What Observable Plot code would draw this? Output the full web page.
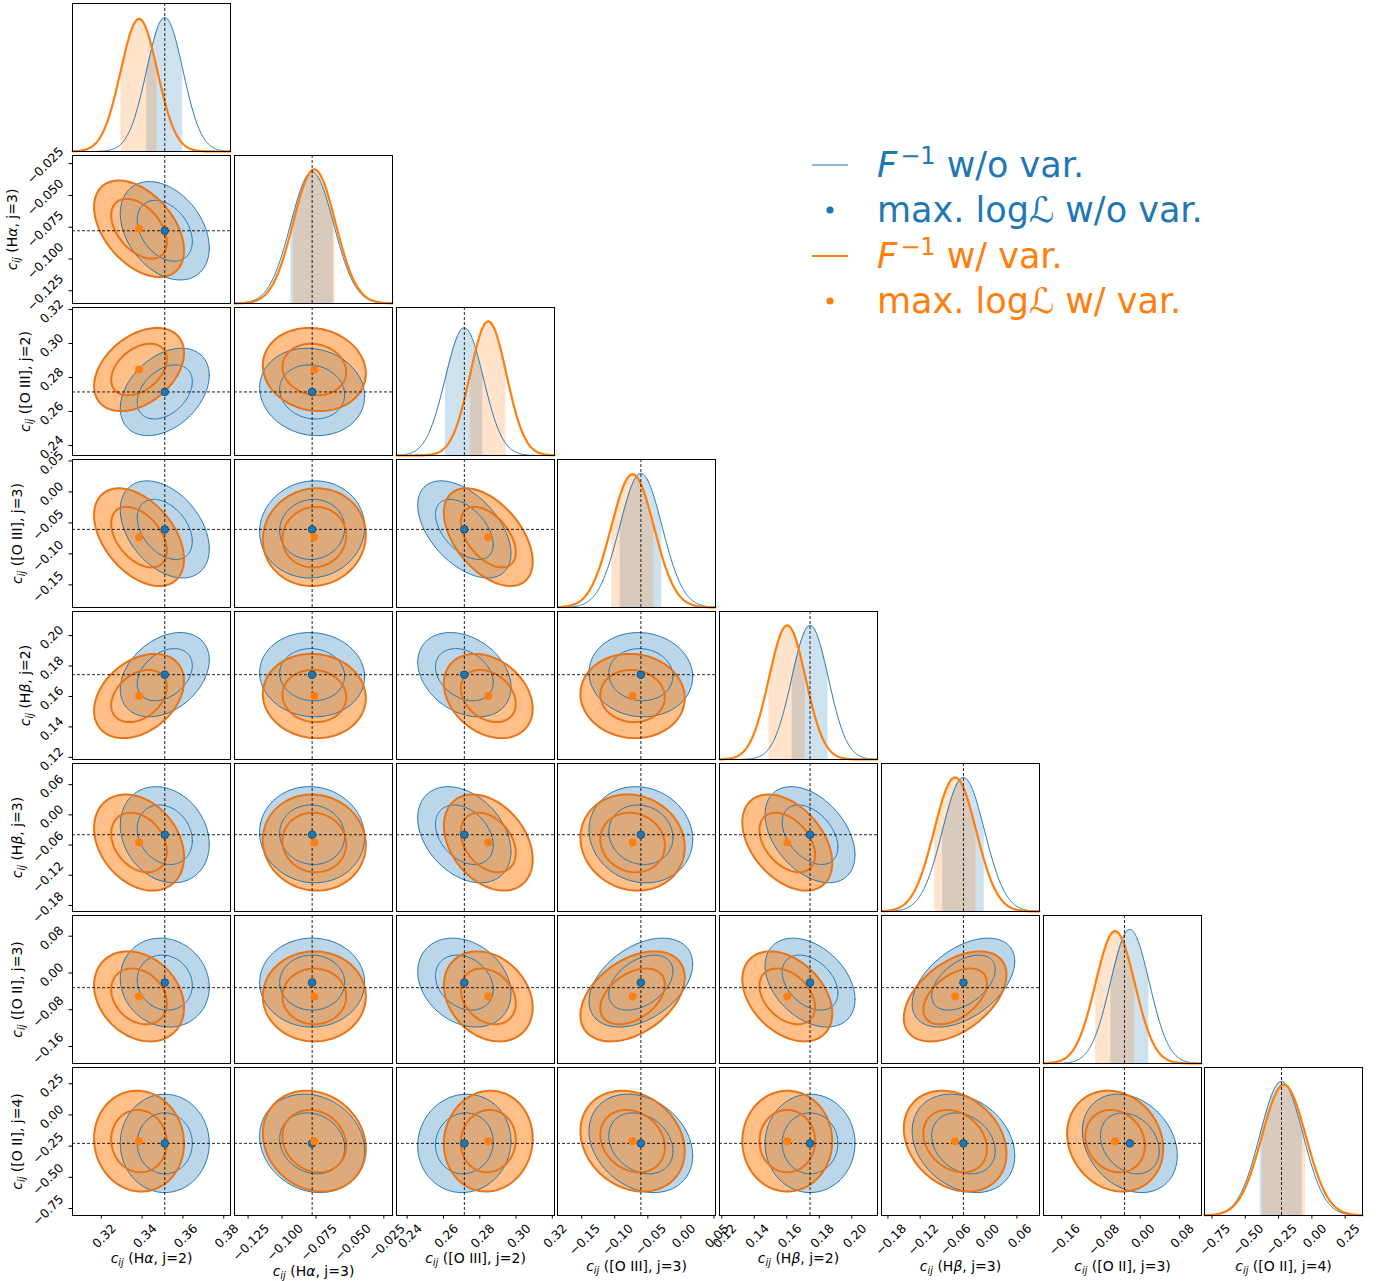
<!DOCTYPE html>
<html><head><meta charset="utf-8">
<script src="https://cdn.jsdelivr.net/npm/d3@7"></script>
<script src="https://cdn.jsdelivr.net/npm/@observablehq/plot@0.6"></script>
<style>
body{margin:0;background:#fff;}
#fig{position:relative;width:1385px;height:1281px;font-family:"DejaVu Sans",sans-serif;background:#fff;}
#fig svg{overflow:visible;}
.panel{position:absolute;}
</style></head><body><div id="fig"></div>
<script>
// ---------------- data ----------------
const paramNames = ["Hα, j=2", "Hα, j=3", "[O III], j=2", "[O III], j=3", "Hβ, j=2", "Hβ, j=3", "[O II], j=3", "[O II], j=4"];
const domainLo = [0.3059, -0.1350, 0.2341, -0.1865, 0.1186, -0.1920, -0.1970, -0.8060];
const domainHi = [0.3833, -0.0186, 0.3212, 0.0523, 0.2158, 0.1020, 0.1250, 0.3800];
const truth    = [0.3511, -0.0778, 0.2715, -0.0605, 0.1743, -0.0395, -0.0320, -0.2280];
const mlBlue   = [0.3511, -0.0778, 0.2715, -0.0605, 0.1743, -0.0395, -0.0210, -0.2280];
const mlOrange = [0.3385, -0.0762, 0.2847, -0.0730, 0.1603, -0.0550, -0.0510, -0.2100];
const sigmaBlue   = [0.0089, 0.0158, 0.0105, 0.0320, 0.0113, 0.0390, 0.0395, 0.1610];
const sigmaOrange = [0.0090, 0.0155, 0.0100, 0.0322, 0.0113, 0.0390, 0.0400, 0.1650];
// correlations, lower triangle: row j -> params 0..j-1
const corrBlue = [
  [],
  [-0.35],
  [0.38, -0.10],
  [-0.40, 0.05, -0.50],
  [0.35, -0.05, -0.30, -0.05],
  [-0.20, -0.05, -0.35, -0.10, -0.42],
  [-0.10, 0.00, -0.25, 0.42, -0.38, 0.48],
  [0.00, -0.15, 0.05, -0.25, 0.00, -0.25, -0.25]
];
const corrOrange = [
  [],
  [-0.45],
  [0.40, -0.10],
  [-0.45, 0.05, -0.50],
  [0.35, -0.05, -0.30, -0.05],
  [-0.30, -0.05, -0.35, -0.10, -0.42],
  [-0.25, 0.00, -0.25, 0.42, -0.38, 0.48],
  [-0.05, -0.15, 0.05, -0.20, 0.00, -0.25, -0.15]
];
const tickValues = [
  [0.32, 0.34, 0.36, 0.38],
  [-0.125, -0.100, -0.075, -0.050, -0.025],
  [0.24, 0.26, 0.28, 0.30, 0.32],
  [-0.15, -0.10, -0.05, 0.00, 0.05],
  [0.12, 0.14, 0.16, 0.18, 0.20],
  [-0.18, -0.12, -0.06, 0.00, 0.06],
  [-0.16, -0.08, 0.00, 0.08],
  [-0.75, -0.50, -0.25, 0.00, 0.25]
];
const tickLabels = [
  ["0.32", "0.34", "0.36", "0.38"],
  ["−0.125", "−0.100", "−0.075", "−0.050", "−0.025"],
  ["0.24", "0.26", "0.28", "0.30", "0.32"],
  ["−0.15", "−0.10", "−0.05", "0.00", "0.05"],
  ["0.12", "0.14", "0.16", "0.18", "0.20"],
  ["−0.18", "−0.12", "−0.06", "0.00", "0.06"],
  ["−0.16", "−0.08", "0.00", "0.08"],
  ["−0.75", "−0.50", "−0.25", "0.00", "0.25"]
];
const legendLabels = [["F", "−1", " w/o var."], ["max. logℒ w/o var."], ["F", "−1", " w/ var."], ["max. logℒ w/ var."]];
const legendKinds = ["line", "dot", "line", "dot"];

// ---------------- styling / layout ----------------
const BLUE = "#1f77b4", ORANGE = "#ff7f0e", ORANGE_LINE = "#e8741a";
const PW = 158, PH = 148;
const colX = i => Math.round(72.3 + i * 161.7);
const rowY = j => Math.round(3 + j * 152);
const FS_TICK = 12.3, FS_LABEL = 14, TH = FS_TICK * 1.16;
const R1 = 1.515, R2 = 2.448; // 68% and 95% 2-D contours
const N = 8;
const fig = document.getElementById("fig");

function textW(s, fs) {
  let w = 0;
  for (const c of s) w += c === "." ? 0.318 : c === "−" ? 0.838 : /[0-9]/.test(c) ? 0.636 : 0.6;
  return w * fs;
}
function ellipse(mx, my, sx, sy, rho, r) {
  const k = Math.sqrt(1 - rho * rho), pts = [];
  for (let t = 0; t <= 144; t++) {
    const a = t / 144 * 2 * Math.PI;
    pts.push({x: mx + r * sx * Math.cos(a), y: my + r * sy * (rho * Math.cos(a) + k * Math.sin(a))});
  }
  return pts;
}
function gauss(mu, s, lo, hi) {
  const pts = [];
  for (let t = 0; t <= 300; t++) {
    const x = lo + (hi - lo) * t / 300;
    pts.push({x, y: Math.exp(-0.5 * ((x - mu) / s) ** 2) / (s * Math.sqrt(2 * Math.PI))});
  }
  return pts;
}
function xAxisMarks(i) {
  const m = [Plot.axisX(tickValues[i], {anchor: "bottom", tickSize: 3.5, tickFormat: () => "", label: null, stroke: "black"})];
  let maxB = 0;
  tickValues[i].forEach((v, k) => {
    const b = 0.7071 * (textW(tickLabels[i][k], FS_TICK) + TH);
    maxB = Math.max(maxB, b);
    m.push(Plot.text([v], {x: d => d, frameAnchor: "bottom", text: () => tickLabels[i][k], dx: 3, dy: 6 + b / 2,
      rotate: -45, textAnchor: "middle", lineAnchor: "middle", fontSize: FS_TICK, fill: "black"}));
  });
  m.push(Plot.text([0], {frameAnchor: "bottom", text: () => "c_ij (" + paramNames[i] + ")", dy: 6 + maxB + 8,
    fontSize: FS_LABEL, textAnchor: "middle", lineAnchor: "middle", fill: "black"}));
  return m;
}
function yAxisMarks(j) {
  const m = [Plot.axisY(tickValues[j], {anchor: "left", tickSize: 3.5, tickFormat: () => "", label: null, stroke: "black"})];
  let maxB = 0;
  tickValues[j].forEach((v, k) => {
    const b = 0.7071 * (textW(tickLabels[j][k], FS_TICK) + TH);
    maxB = Math.max(maxB, b);
    m.push(Plot.text([v], {y: d => d, frameAnchor: "left", text: () => tickLabels[j][k], dx: -(6 + b / 2), dy: 2,
      rotate: -45, textAnchor: "middle", lineAnchor: "middle", fontSize: FS_TICK, fill: "black"}));
  });
  m.push(Plot.text([0], {frameAnchor: "left", text: () => "c_ij (" + paramNames[j] + ")", dx: -(6 + maxB + 12), rotate: -90,
    fontSize: FS_LABEL, textAnchor: "middle", lineAnchor: "middle", fill: "black"}));
  return m;
}
function richLabel(el) {
  const s = el.textContent;
  const inner = s.slice(4);
  while (el.firstChild) el.removeChild(el.firstChild);
  const add = (t, a = {}) => {
    const ts = document.createElementNS("http://www.w3.org/2000/svg", "tspan");
    ts.textContent = t;
    for (const k in a) ts.setAttribute(k, a[k]);
    el.appendChild(ts);
  };
  add("c", {"font-style": "italic"});
  add("ij", {"font-style": "italic", "font-size": (FS_LABEL * 0.7) + "px", dy: "3"});
  const parts = inner.split(/([αβ])/);
  add(parts[0], {dy: "-3"});
  for (let k = 1; k < parts.length; k++) add(parts[k], /[αβ]/.test(parts[k]) ? {"font-style": "italic"} : {});
}
function place(svg, i, j) {
  svg.querySelectorAll("text").forEach(t => { if (t.textContent.startsWith("c_ij")) richLabel(t); });
  const d = document.createElement("div");
  d.className = "panel";
  d.style.left = colX(i) + "px";
  d.style.top = rowY(j) + "px";
  d.style.width = PW + "px";
  d.style.height = PH + "px";
  d.appendChild(svg);
  fig.appendChild(d);
}
const baseStyle = {overflow: "visible", background: "none", fontFamily: "DejaVu Sans", color: "black"};

// ---------------- diagonal panels ----------------
for (let i = 0; i < N; i++) {
  const cb = gauss(mlBlue[i], sigmaBlue[i], domainLo[i], domainHi[i]);
  const co = gauss(mlOrange[i], sigmaOrange[i], domainLo[i], domainHi[i]);
  const peak = Math.max(...cb.map(d => d.y), ...co.map(d => d.y));
  const marks = [
    Plot.areaY(cb.filter(d => Math.abs(d.x - mlBlue[i]) <= sigmaBlue[i]), {x: "x", y: "y", fill: BLUE, fillOpacity: 0.22}),
    Plot.areaY(co.filter(d => Math.abs(d.x - mlOrange[i]) <= sigmaOrange[i]), {x: "x", y: "y", fill: ORANGE, fillOpacity: 0.22}),
    Plot.line(cb, {x: "x", y: "y", stroke: BLUE, strokeWidth: 1}),
    Plot.line(co, {x: "x", y: "y", stroke: ORANGE, strokeWidth: 2.2}),
    Plot.ruleX([truth[i]], {stroke: "black", strokeWidth: 1, strokeDasharray: "3,2", strokeOpacity: 0.85}),
    Plot.frame({stroke: "black", strokeWidth: 1})
  ];
  if (i === N - 1) marks.push(...xAxisMarks(i));
  const svg = Plot.plot({
    width: PW, height: PH, margin: 0, style: baseStyle,
    x: {domain: [domainLo[i], domainHi[i]], axis: null},
    y: {domain: [0, peak * 1.104], axis: null},
    marks
  });
  place(svg, i, i);
}

// ---------------- off-diagonal panels ----------------
for (let j = 1; j < N; j++) {
  for (let i = 0; i < j; i++) {
    const rb = corrBlue[j][i], ro = corrOrange[j][i];
    const bOut = ellipse(mlBlue[i], mlBlue[j], sigmaBlue[i], sigmaBlue[j], rb, R2);
    const bIn = ellipse(mlBlue[i], mlBlue[j], sigmaBlue[i], sigmaBlue[j], rb, R1);
    const oOut = ellipse(mlOrange[i], mlOrange[j], sigmaOrange[i], sigmaOrange[j], ro, R2);
    const oIn = ellipse(mlOrange[i], mlOrange[j], sigmaOrange[i], sigmaOrange[j], ro, R1);
    const marks = [
      Plot.line(bOut, {x: "x", y: "y", fill: BLUE, fillOpacity: 0.3, stroke: "none", clip: true}),
      Plot.line(oOut, {x: "x", y: "y", fill: ORANGE, fillOpacity: 0.5, stroke: "none", clip: true}),
      Plot.line(bOut, {x: "x", y: "y", stroke: BLUE, strokeWidth: 1, clip: true}),
      Plot.line(bIn, {x: "x", y: "y", stroke: BLUE, strokeWidth: 1, clip: true}),
      Plot.line(oOut, {x: "x", y: "y", stroke: ORANGE_LINE, strokeWidth: 2, clip: true}),
      Plot.line(oIn, {x: "x", y: "y", stroke: ORANGE_LINE, strokeWidth: 2, clip: true}),
      Plot.ruleX([truth[i]], {stroke: "black", strokeWidth: 1, strokeDasharray: "3,2", strokeOpacity: 0.85}),
      Plot.ruleY([truth[j]], {stroke: "black", strokeWidth: 1, strokeDasharray: "3,2", strokeOpacity: 0.85}),
      Plot.dot([{x: mlBlue[i], y: mlBlue[j]}], {x: "x", y: "y", r: 3.8, fill: BLUE, stroke: "#14517e", strokeWidth: 1}),
      Plot.dot([{x: mlOrange[i], y: mlOrange[j]}], {x: "x", y: "y", r: 4, fill: ORANGE, stroke: "none"}),
      Plot.frame({stroke: "black", strokeWidth: 1})
    ];
    if (i === 0) marks.push(...yAxisMarks(j));
    if (j === N - 1) marks.push(...xAxisMarks(i));
    const svg = Plot.plot({
      width: PW, height: PH, margin: 0, style: baseStyle,
      x: {domain: [domainLo[i], domainHi[i]], axis: null},
      y: {domain: [domainLo[j], domainHi[j]], axis: null},
      marks
    });
    place(svg, i, j);
  }
}

// ---------------- legend ----------------
(function legend() {
  const ns = "http://www.w3.org/2000/svg";
  const svg = document.createElementNS(ns, "svg");
  svg.setAttribute("width", 430); svg.setAttribute("height", 200);
  svg.style.cssText = "position:absolute;left:800px;top:140px;overflow:visible";
  svg.setAttribute("font-family", "DejaVu Sans");
  const colors = [BLUE, BLUE, ORANGE, ORANGE];
  const baselines = [37, 82, 128, 173];
  legendLabels.forEach((parts, k) => {
    const c = colors[k], yb = baselines[k], yh = yb - 12;
    if (legendKinds[k] === "line") {
      const l = document.createElementNS(ns, "line");
      l.setAttribute("x1", 12); l.setAttribute("x2", 48); l.setAttribute("y1", yh); l.setAttribute("y2", yh);
      l.setAttribute("stroke", c); l.setAttribute("stroke-width", k === 0 ? 1.2 : 2.2);
      svg.appendChild(l);
    } else {
      const d = document.createElementNS(ns, "circle");
      d.setAttribute("cx", 30); d.setAttribute("cy", yh); d.setAttribute("r", 3.6); d.setAttribute("fill", c);
      svg.appendChild(d);
    }
    const t = document.createElementNS(ns, "text");
    t.setAttribute("x", 77); t.setAttribute("y", yb); t.setAttribute("fill", c); t.setAttribute("font-size", 35);
    if (parts.length === 3) {
      const a = document.createElementNS(ns, "tspan"); a.textContent = parts[0]; a.setAttribute("font-style", "italic"); t.appendChild(a);
      const b = document.createElementNS(ns, "tspan"); b.textContent = parts[1]; b.setAttribute("font-size", 24); b.setAttribute("dy", -13); b.setAttribute("dx", 3); t.appendChild(b);
      const e = document.createElementNS(ns, "tspan"); e.textContent = parts[2]; e.setAttribute("dy", 13); t.appendChild(e);
    } else {
      const s = parts[0].split("ℒ");
      const a = document.createElementNS(ns, "tspan"); a.textContent = s[0]; t.appendChild(a);
      const b = document.createElementNS(ns, "tspan"); b.textContent = "ℒ"; b.setAttribute("font-style", "italic"); t.appendChild(b);
      const e = document.createElementNS(ns, "tspan"); e.textContent = s[1]; t.appendChild(e);
    }
    svg.appendChild(t);
  });
  fig.appendChild(svg);
})();
</script>
</body></html>
